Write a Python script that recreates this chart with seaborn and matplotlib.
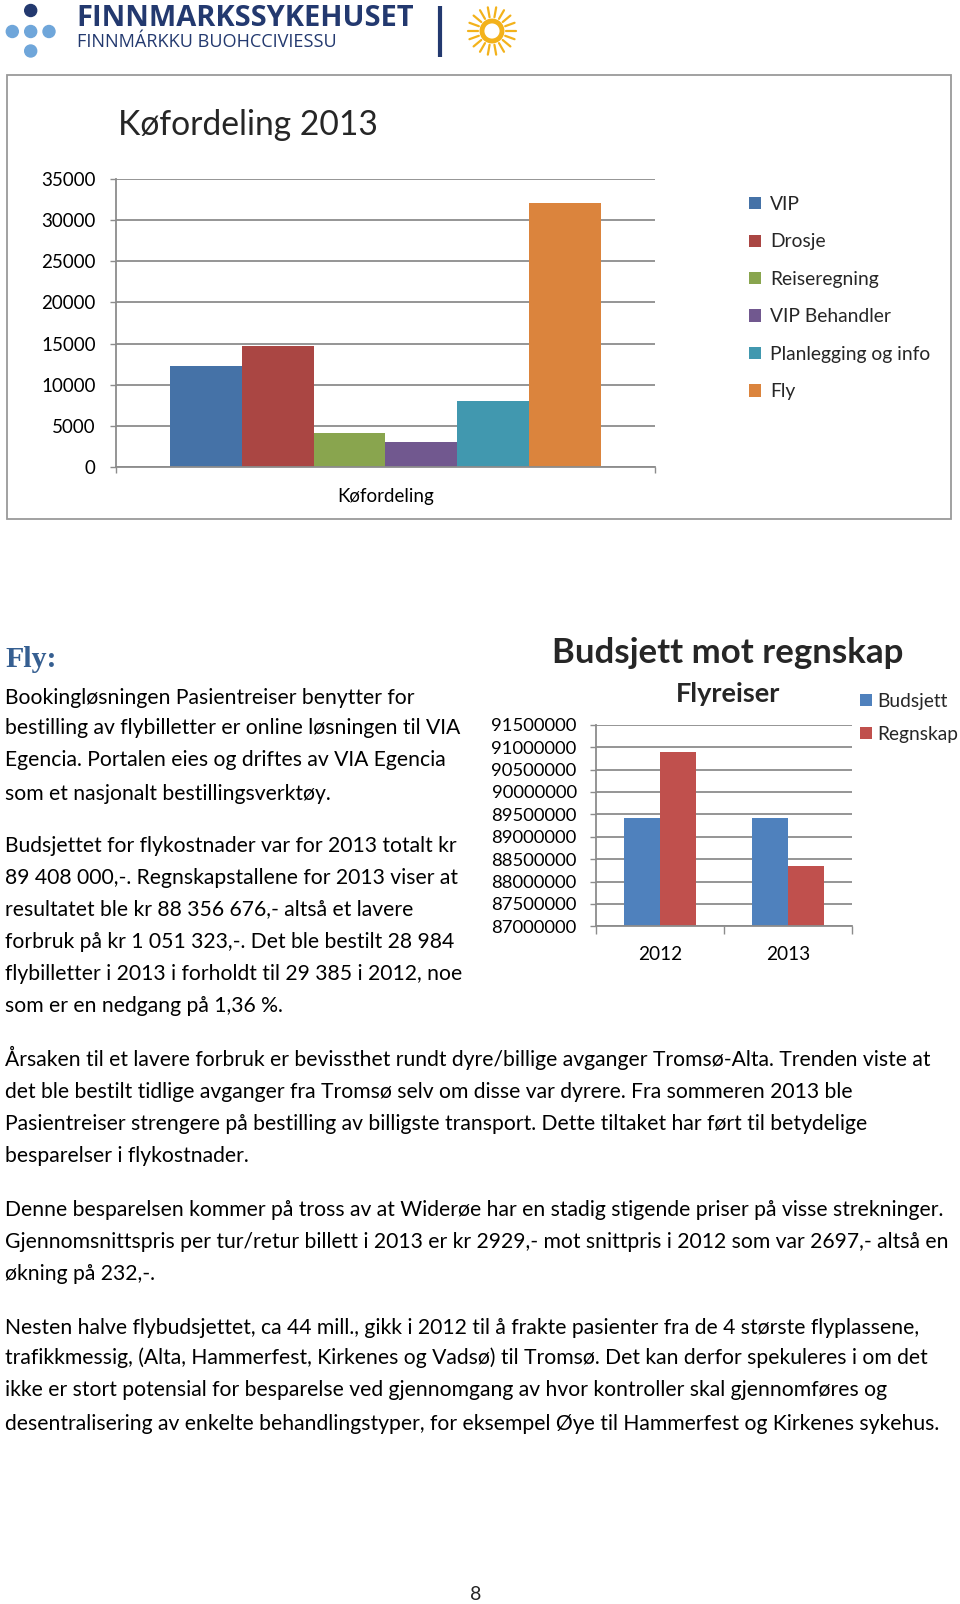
import numpy as np
import pandas as pd
import matplotlib
matplotlib.use("Agg")
import matplotlib.pyplot as plt
import seaborn as sns
from matplotlib.patches import Rectangle, Circle
from matplotlib.ticker import FuncFormatter

sns.set_theme(style="white")
plt.rcParams['font.family'] = ['Lato', 'DejaVu Sans']

# --- data: Køfordeling 2013 ---
kategorier = ['VIP', 'Drosje', 'Reiseregning', 'VIP Behandler', 'Planlegging og info', 'Fly']
antall = [12300, 14650, 4170, 3080, 8020, 32050]
farger1 = ['#4572A7', '#AA4643', '#89A54E', '#71588F', '#4198AF', '#DB843D']

# --- data: Budsjett mot regnskap, flyreiser ---
aar = ['2012', '2013']
budsjett = [89408000, 89408000]
regnskap = [90880000, 88356676]
farger2 = ['#4F81BD', '#C0504D']

# --- page text ---
tekst_fly = [
    "Bookingløsningen Pasientreiser benytter for",
    "bestilling av flybilletter er online løsningen til VIA",
    "Egencia. Portalen eies og driftes av VIA Egencia",
    "som et nasjonalt bestillingsverktøy.",
    "Budsjettet for flykostnader var for 2013 totalt kr",
    "89 408 000,-. Regnskapstallene for 2013 viser at",
    "resultatet ble kr 88 356 676,- altså et lavere",
    "forbruk på kr 1 051 323,-. Det ble bestilt 28 984",
    "flybilletter i 2013 i forholdt til 29 385 i 2012, noe",
    "som er en nedgang på 1,36 %.",
]
tekst_fly_y = [697, 728, 760, 793, 845, 877, 909, 942, 973, 1006]

tekst_bunn = [
    "Årsaken til et lavere forbruk er bevissthet rundt dyre/billige avganger Tromsø-Alta. Trenden viste at",
    "det ble bestilt tidlige avganger fra Tromsø selv om disse var dyrere. Fra sommeren 2013 ble",
    "Pasientreiser strengere på bestilling av billigste transport. Dette tiltaket har ført til betydelige",
    "besparelser i flykostnader.",
    "Denne besparelsen kommer på tross av at Widerøe har en stadig stigende priser på visse strekninger.",
    "Gjennomsnittspris per tur/retur billett i 2013 er kr 2929,- mot snittpris i 2012 som var 2697,- altså en",
    "økning på 232,-.",
    "Nesten halve flybudsjettet, ca 44 mill., gikk i 2012 til å frakte pasienter fra de 4 største flyplassene,",
    "trafikkmessig, (Alta, Hammerfest, Kirkenes og Vadsø) til Tromsø. Det kan derfor spekuleres i om det",
    "ikke er stort potensial for besparelse ved gjennomgang av hvor kontroller skal gjennomføres og",
    "desentralisering av enkelte behandlingstyper, for eksempel Øye til Hammerfest og Kirkenes sykehus.",
]
tekst_bunn_y = [1059, 1091, 1124, 1156, 1209, 1241, 1273, 1327, 1358, 1390, 1423]

W, H = 960, 1604
fig = plt.figure(figsize=(W / 100, H / 100), dpi=100, facecolor='white')


def box(x0, y0, x1, y1):
    # pixel box (top-left origin) -> figure fraction
    return [x0 / W, 1 - y1 / H, (x1 - x0) / W, (y1 - y0) / H]


# background layer for logo, frame and running text (pixel coords)
deco = fig.add_axes([0, 0, 1, 1])
deco.set_xlim(0, W)
deco.set_ylim(H, 0)
deco.axis('off')

# logo
navy = '#23396F'
deco.add_patch(Circle((30.7, 10.5), 6, color=navy))
for cx in [12.3, 30.7, 49]:
    deco.add_patch(Circle((cx, 31.5), 6, color='#6FA6DA'))
deco.add_patch(Circle((30.7, 51), 6, color='#6FA6DA'))
deco.text(76, 26, 'FINNMARKSSYKEHUSET', fontsize=20.9, fontweight='bold', color=navy,
          family=['Open Sans', 'DejaVu Sans'], va='baseline')
deco.text(77, 47, 'FINNMÁRKKU BUOHCCIVIESSU', fontsize=13.1, color=navy,
          family=['Open Sans', 'DejaVu Sans'], va='baseline')
deco.plot([440, 440], [6, 57], color=navy, lw=3, solid_capstyle='butt')
sol = '#F3B21B'
deco.add_patch(Circle((492, 31), 10, fill=False, ec=sol, lw=3.5))
for a in np.linspace(0, 2 * np.pi, 18, endpoint=False):
    deco.plot([492 + 14 * np.cos(a), 492 + 24 * np.cos(a)],
              [31 + 14 * np.sin(a), 31 + 24 * np.sin(a)], color=sol, lw=1.6)

# frame around first chart
deco.add_patch(Rectangle((7, 75), 944, 444, fill=False, ec='#9a9a9a', lw=1.3))

# --- chart 1 ---
grid_c = '#8c8c8c'
df1 = pd.DataFrame({'gruppe': 'Køfordeling', 'kategori': kategorier, 'antall': antall})
ax1 = fig.add_axes(box(115.7, 179, 655.3, 467))
ax1.set_facecolor('none')
sns.barplot(data=df1, x='gruppe', y='antall', hue='kategori', palette=farger1,
            saturation=1, width=0.8, linewidth=0, ax=ax1)
ax1.set_ylim(0, 35000)
ax1.set_xlim(-0.5, 0.5)
ax1.set_yticks(range(0, 35001, 5000))
ax1.yaxis.grid(True, color=grid_c, lw=1.3)
ax1.set_axisbelow(True)
ax1.set_xlabel('')
ax1.set_ylabel('')
for s in ['top', 'right']:
    ax1.spines[s].set_visible(False)
for s in ['left', 'bottom']:
    ax1.spines[s].set_color(grid_c)
    ax1.spines[s].set_linewidth(1.3)
ax1.tick_params(axis='y', left=True, length=4.3, width=1, color=grid_c, labelsize=13.5, pad=10, labelcolor='black')
ax1.tick_params(axis='x', bottom=True, length=0, labelsize=13.5, pad=15, labelcolor='black')
ax1.set_xticks([-0.5, 0.5], minor=True)
ax1.tick_params(axis='x', which='minor', bottom=True, length=4.3, width=1, color=grid_c)
ax1.legend(loc='upper left', bbox_to_anchor=(749 / W, 1 - 196 / H), bbox_transform=fig.transFigure,
           frameon=False, fontsize=13.9, handlelength=0.6, handleheight=0.6, handletextpad=0.5,
           labelspacing=1.06, borderpad=0, borderaxespad=0)
fig.text(118 / W, 1 - 135 / H, 'Køfordeling 2013', fontsize=24.2, va='baseline', ha='left')

# --- chart 2 ---
df2 = pd.DataFrame({'år': aar * 2,
                    'type': ['Budsjett'] * len(aar) + ['Regnskap'] * len(aar),
                    'beløp': budsjett + regnskap})
ax2 = fig.add_axes(box(596, 724.7, 852, 926.3))
ax2.set_facecolor('none')
sns.barplot(data=df2, x='år', y='beløp', hue='type', palette=farger2,
            saturation=1, width=0.57, linewidth=0, ax=ax2)
ax2.set_ylim(87000000, 91500000)
ax2.set_xlim(-0.5, 1.5)
ax2.set_yticks(np.arange(87000000, 91500001, 500000))
ax2.yaxis.set_major_formatter(FuncFormatter(lambda v, p: f'{int(round(v))}'))
ax2.yaxis.grid(True, color=grid_c, lw=1.3)
ax2.set_axisbelow(True)
ax2.set_xlabel('')
ax2.set_ylabel('')
for s in ['top', 'right']:
    ax2.spines[s].set_visible(False)
for s in ['left', 'bottom']:
    ax2.spines[s].set_color(grid_c)
    ax2.spines[s].set_linewidth(1.3)
ax2.tick_params(axis='y', left=True, length=4.3, width=1, color=grid_c, labelsize=13.3, pad=9.6, labelcolor='black')
ax2.tick_params(axis='x', bottom=True, length=0, labelsize=13.7, pad=14, labelcolor='black')
ax2.set_xticks([-0.5, 0.5, 1.5], minor=True)
ax2.tick_params(axis='x', which='minor', bottom=True, length=5.5, width=1, color=grid_c)
ax2.legend(loc='upper left', bbox_to_anchor=(860 / W, 1 - 693 / H), bbox_transform=fig.transFigure,
           frameon=False, fontsize=13.8, handlelength=0.6, handleheight=0.6, handletextpad=0.28,
           labelspacing=0.82, borderpad=0, borderaxespad=0)
fig.text(728 / W, 1 - 653 / H, 'Budsjett mot regnskap', fontsize=25.1, fontweight='bold', ha='center', va='center')
fig.text(728 / W, 1 - 694 / H, 'Flyreiser', fontsize=19.5, fontweight='bold', ha='center', va='center')

# --- running text ---
deco.text(5, 667, 'Fly:', fontsize=21.5, fontweight='bold', color='#365F91',
          family=['Liberation Serif', 'DejaVu Serif'], va='baseline')
for linje, y in zip(tekst_fly, tekst_fly_y):
    deco.text(5, y + 6.5, linje, fontsize=15.2, va='baseline', color='black')
for linje, y in zip(tekst_bunn, tekst_bunn_y):
    deco.text(5, y + 6.5, linje, fontsize=15.2, va='baseline', color='black')
deco.text(476, 1600, '8', fontsize=14, ha='center', va='baseline')

fig.savefig('out.png', dpi=100, facecolor='white')
